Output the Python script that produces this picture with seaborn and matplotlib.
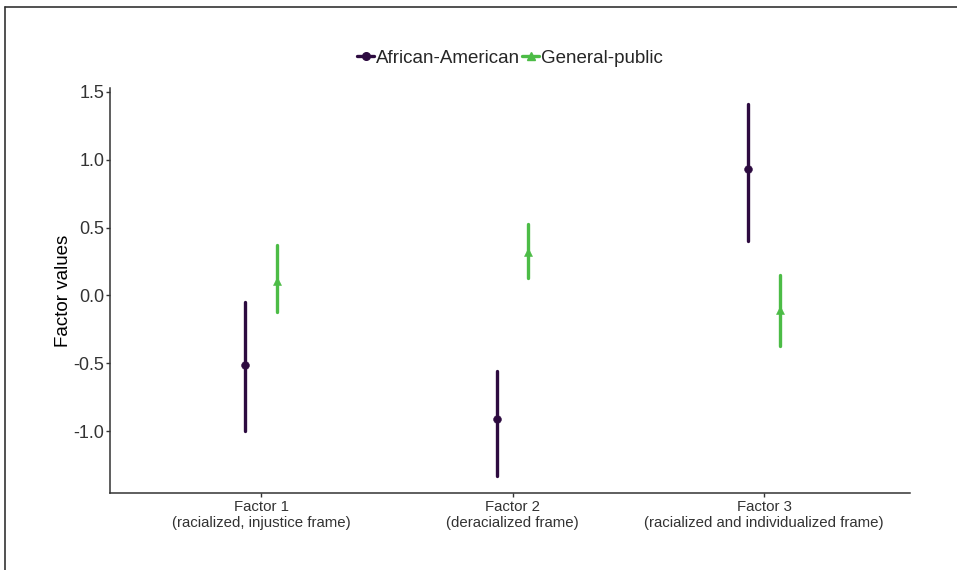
import matplotlib
matplotlib.use("Agg")
import matplotlib.pyplot as plt
from matplotlib.lines import Line2D
import seaborn as sns
import pandas as pd

# Factor estimates with interval bounds for each sample
factors = ["Factor 1\n(racialized, injustice frame)",
           "Factor 2\n(deracialized frame)",
           "Factor 3\n(racialized and individualized frame)"]
groups = ["African-American", "General-public"]

aa_mean = [-0.51, -0.91, 0.93]
aa_low = [-1.00, -1.33, 0.40]
aa_high = [-0.05, -0.56, 1.41]

gp_mean = [0.11, 0.32, -0.11]
gp_low = [-0.12, 0.13, -0.37]
gp_high = [0.37, 0.53, 0.15]

colors = ["#2D0B40", "#4CBC46"]
markers = ["o", "^"]

rows = []
for g, (m, lo, hi) in zip(groups, [(aa_mean, aa_low, aa_high),
                                   (gp_mean, gp_low, gp_high)]):
    for f, mv, lv, hv in zip(factors, m, lo, hi):
        for v in (lv, mv, hv):
            rows.append({"factor": f, "group": g, "value": v})
df = pd.DataFrame(rows)

sns.set_theme(style="ticks")
plt.rcParams["font.family"] = ["Liberation Sans", "DejaVu Sans"]
plt.rcParams["axes.unicode_minus"] = False

fig = plt.figure(figsize=(9.57, 5.70), dpi=100)
ax = fig.add_axes([0.115, 0.135, 0.836, 0.711])

sns.pointplot(
    data=df, x="factor", y="value", hue="group",
    order=factors, hue_order=groups,
    estimator="median",
    errorbar=lambda v: (v.min(), v.max()),
    dodge=0.126, linestyle="none",
    markers=markers, palette=colors,
    markersize=5.6, markeredgewidth=0.4,
    err_kws={"linewidth": 2.4},
    legend=False, ax=ax,
)

ax.set_xlim(-0.6, 2.58)
ax.set_ylim(-1.457, 1.531)
ax.set_yticks([-1.0, -0.5, 0.0, 0.5, 1.0, 1.5])
ax.set_yticklabels(["-1.0", "-0.5", "0.0", "0.5", "1.0", "1.5"])
ax.set_xlabel("")
ax.set_ylabel("Factor values", fontsize=13.5, color="black", labelpad=1)

for side in ("top", "right"):
    ax.spines[side].set_visible(False)
for side in ("left", "bottom"):
    ax.spines[side].set_color("#333333")
    ax.spines[side].set_linewidth(1.1)
ax.tick_params(axis="y", labelsize=13, colors="#333333", labelcolor="#333333",
               length=3, width=1, pad=1)
ax.tick_params(axis="x", labelsize=10.8, colors="#333333", labelcolor="#333333",
               length=3, width=1, pad=2)

handles = [Line2D([0], [0], color=c, marker=mk, markersize=5.5, linewidth=2.4)
           for c, mk in zip(colors, markers)]
fig.legend(handles, groups, loc="center", bbox_to_anchor=(0.533, 0.898),
           ncol=2, frameon=False, fontsize=13.5, handlelength=0.9,
           handletextpad=0.1, columnspacing=0.1)

# thin frame along the left and top of the figure
fig.add_artist(Line2D([5 / 957, 5 / 957], [0, 1 - 7 / 570], color="#333333",
                      linewidth=1.2, transform=fig.transFigure))
fig.add_artist(Line2D([5 / 957, 1], [1 - 7 / 570, 1 - 7 / 570], color="#333333",
                      linewidth=1.2, transform=fig.transFigure))

fig.savefig("out.png", dpi=100, facecolor="white")
